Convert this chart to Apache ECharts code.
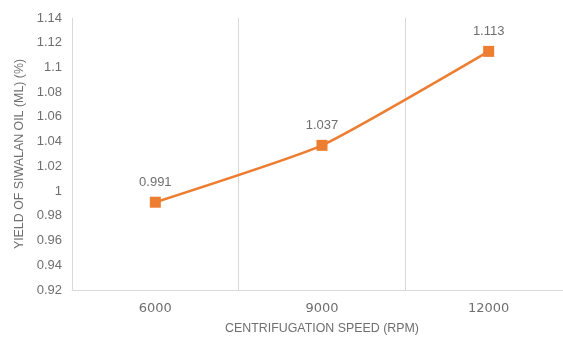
<!DOCTYPE html>
<html>
<head>
<meta charset="utf-8">
<script src="https://cdn.jsdelivr.net/npm/echarts@6/dist/echarts.min.js"></script>
<style>
  html, body { margin: 0; padding: 0; background: #fff; }
  #chart { width: 563px; height: 337px; }
</style>
</head>
<body>
<div id="chart"></div>
<script>
// Centrifugation speed (RPM) categories and measured oil yield
const speeds = ['6000', '9000', '12000'];
const yieldValues = [0.991, 1.037, 1.113];

// Value axis range
const yMin = 0.92;
const yMax = 1.14;
const yStep = 0.02;

const gray = '#6f6f6f';
const lineGray = '#d9d9d9';
const orange = '#ED7D31';

const chart = echarts.init(document.getElementById('chart'));
chart.setOption({
  animation: false,
  grid: {
    left: 72, top: 18, width: 500, height: 272,
    containLabel: false,
    outerBoundsMode: 'none'
  },
  xAxis: {
    type: 'category',
    data: speeds,
    boundaryGap: true,
    name: 'CENTRIFUGATION SPEED (RPM)',
    nameLocation: 'middle',
    nameGap: 33,
    nameTextStyle: { color: gray, fontSize: 12.4, fontFamily: 'Liberation Sans' },
    axisLine: { show: true, lineStyle: { color: lineGray, width: 1 } },
    axisTick: { show: false },
    axisLabel: { color: gray, fontSize: 13, fontFamily: 'DejaVu Sans', margin: 12 },
    splitLine: { show: true, lineStyle: { color: lineGray, width: 1 } }
  },
  yAxis: {
    type: 'value',
    min: yMin,
    max: yMax,
    interval: yStep,
    name: 'YIELD OF SIWALAN OIL (ML) (%)',
    nameLocation: 'middle',
    nameGap: 45,
    nameTextStyle: { color: gray, fontSize: 12.4, fontFamily: 'Liberation Sans' },
    axisLine: { show: false },
    axisTick: { show: false },
    splitLine: { show: false },
    axisLabel: {
      color: gray,
      fontSize: 13,
      fontFamily: 'Liberation Sans',
      margin: 10,
      formatter: v => String(parseFloat(v.toFixed(2)))
    }
  },
  series: [{
    type: 'line',
    data: yieldValues,
    smooth: 0.15,
    symbol: 'rect',
    symbolSize: 11,
    itemStyle: { color: orange },
    lineStyle: { color: orange, width: 2.5 },
    label: {
      show: true,
      position: 'top',
      distance: 8,
      color: gray,
      fontSize: 13,
      fontFamily: 'Liberation Sans',
      formatter: p => p.value.toFixed(3)
    }
  }]
});
</script>
</body>
</html>
